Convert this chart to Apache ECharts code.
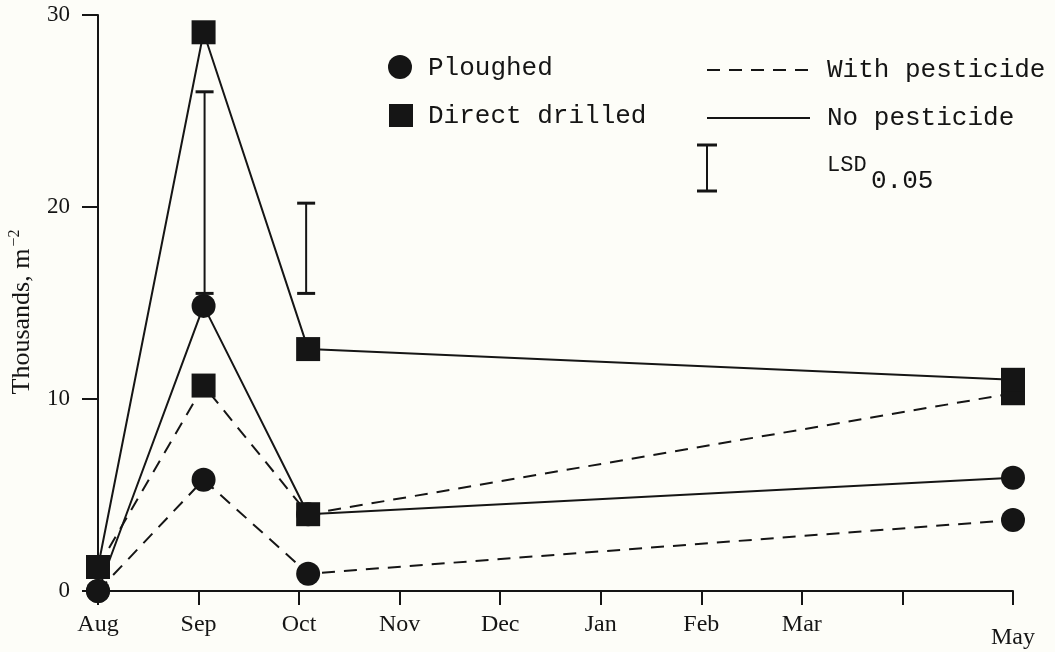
<!DOCTYPE html>
<html>
<head>
<meta charset="utf-8">
<script src="https://cdn.jsdelivr.net/npm/echarts@6/dist/echarts.min.js"></script>
<style>
  html, body { margin: 0; padding: 0; background: #fdfdf8; }
  #chart { width: 1055px; height: 652px; }
</style>
</head>
<body>
<div id="chart"></div>
<script>
// Sampling dates, in months counted from the start of August
const sampleMonths = [0, 1.05, 2.09, 9.1];

// Month ticks along the time axis (April's tick carries no label)
const monthTicks  = [0, 1, 2, 3, 4, 5, 6, 7, 8, 9.1];
const monthLabels = ['Aug', 'Sep', 'Oct', 'Nov', 'Dec', 'Jan', 'Feb', 'Mar', '', 'May'];

// Numbers (thousands per m²) for each treatment
const ploughedWithPesticide = [0, 5.8, 0.9, 3.7];
const ploughedNoPesticide   = [0, 14.85, 4.0, 5.9];
const drilledWithPesticide  = [1.25, 10.7, 4.0, 10.3];
const drilledNoPesticide    = [1.25, 29.1, 12.6, 11.0];

// Least significant differences (P = 0.05): where they are drawn and their extent
const lsdMonths = [1.06, 2.07];
const lsdLow    = [15.5, 15.5];
const lsdHigh   = [26.0, 20.2];

const INK = '#151515';
const SERIF = '"Liberation Serif", "Times New Roman", serif';
const MONO = '"Liberation Mono", "DejaVu Sans Mono", monospace';

function pairs(values) {
  return sampleMonths.map((m, i) => [m, values[i]]);
}

function treatment(name, values, symbol, dashed) {
  return {
    name: name,
    type: 'line',
    data: pairs(values),
    symbol: symbol,
    symbolSize: 24,
    showSymbol: true,
    clip: false,
    animation: false,
    silent: true,
    lineStyle: { color: INK, width: 2, type: dashed ? [13, 9] : 'solid' },
    itemStyle: { color: INK, borderWidth: 0 }
  };
}

const chart = echarts.init(document.getElementById('chart'), null, { renderer: 'canvas' });

chart.setOption({
  backgroundColor: '#fdfdf8',
  animation: false,
  grid: { left: 98, right: 42, top: 15, bottom: 61, containLabel: false, outerBoundsMode: 'none' },
  xAxis: {
    type: 'value',
    min: 0,
    max: monthTicks[monthTicks.length - 1],
    axisLine: { show: true, lineStyle: { color: INK, width: 2 } },
    axisTick: {
      show: true,
      customValues: monthTicks,
      length: 14,
      lineStyle: { color: INK, width: 2 }
    },
    axisLabel: {
      customValues: monthTicks,
      margin: 22,
      color: INK,
      fontFamily: SERIF,
      fontSize: 24,
      formatter: function (v) {
        const i = monthTicks.indexOf(v);
        const text = i >= 0 ? monthLabels[i] : '';
        return i === monthTicks.length - 1 ? '{low|' + text + '}' : text;
      },
      rich: {
        low: { fontFamily: SERIF, fontSize: 24, color: INK, padding: [13, 0, 0, 0] }
      }
    },
    splitLine: { show: false }
  },
  yAxis: {
    type: 'value',
    min: 0,
    max: 30,
    interval: 10,
    axisLine: { show: true, lineStyle: { color: INK, width: 2 } },
    axisTick: { show: true, length: 16, lineStyle: { color: INK, width: 2 } },
    axisLabel: { margin: 28, color: INK, fontFamily: SERIF, fontSize: 23 },
    splitLine: { show: false }
  },
  series: [
    treatment('Ploughed, with pesticide', ploughedWithPesticide, 'circle', true),
    treatment('Ploughed, no pesticide', ploughedNoPesticide, 'circle', false),
    treatment('Direct drilled, with pesticide', drilledWithPesticide, 'rect', true),
    treatment('Direct drilled, no pesticide', drilledNoPesticide, 'rect', false),
    {
      name: 'LSD',
      type: 'custom',
      silent: true,
      animation: false,
      clip: false,
      data: lsdMonths.map((m, i) => [m, lsdLow[i], lsdHigh[i]]),
      encode: { x: 0, y: [1, 2] },
      renderItem: function (params, api) {
        const lo = api.coord([api.value(0), api.value(1)]);
        const hi = api.coord([api.value(0), api.value(2)]);
        const w = 9;
        return {
          type: 'group',
          children: [
            { type: 'line', shape: { x1: lo[0], y1: lo[1], x2: hi[0], y2: hi[1] }, style: { stroke: INK, lineWidth: 2 } },
            { type: 'line', shape: { x1: lo[0] - w, y1: lo[1], x2: lo[0] + w, y2: lo[1] }, style: { stroke: INK, lineWidth: 3 } },
            { type: 'line', shape: { x1: hi[0] - w, y1: hi[1], x2: hi[0] + w, y2: hi[1] }, style: { stroke: INK, lineWidth: 3 } }
          ]
        };
      }
    }
  ],
  graphic: [
    // y-axis title
    {
      type: 'text',
      x: 22, y: 312,
      rotation: Math.PI / 2,
      style: {
        text: '{t|Thousands, m}{s|\u22122}',
        align: 'center',
        verticalAlign: 'middle',
        fill: INK,
        rich: {
          t: { fontFamily: SERIF, fontSize: 26, fill: INK },
          s: { fontFamily: SERIF, fontSize: 16, fill: INK, padding: [0, 0, 14, 2] }
        }
      }
    },
    // key: tillage symbols
    { type: 'circle', shape: { cx: 400, cy: 67, r: 12 }, style: { fill: INK } },
    { type: 'text', x: 428, y: 68, style: { text: 'Ploughed', font: '26px ' + MONO, fill: INK, verticalAlign: 'middle' } },
    { type: 'rect', shape: { x: 389, y: 104, width: 24, height: 23 }, style: { fill: INK } },
    { type: 'text', x: 428, y: 116, style: { text: 'Direct drilled', font: '26px ' + MONO, fill: INK, verticalAlign: 'middle' } },
    // key: pesticide line styles
    { type: 'line', shape: { x1: 707, y1: 70, x2: 812, y2: 70 }, style: { stroke: INK, lineWidth: 2, lineDash: [13, 9] } },
    { type: 'text', x: 827, y: 70, style: { text: 'With pesticide', font: '26px ' + MONO, fill: INK, verticalAlign: 'middle' } },
    { type: 'line', shape: { x1: 707, y1: 118, x2: 810, y2: 118 }, style: { stroke: INK, lineWidth: 2 } },
    { type: 'text', x: 827, y: 118, style: { text: 'No pesticide', font: '26px ' + MONO, fill: INK, verticalAlign: 'middle' } },
    // key: LSD bar
    { type: 'line', shape: { x1: 707, y1: 145, x2: 707, y2: 191 }, style: { stroke: INK, lineWidth: 2 } },
    { type: 'line', shape: { x1: 697, y1: 145, x2: 717, y2: 145 }, style: { stroke: INK, lineWidth: 3 } },
    { type: 'line', shape: { x1: 697, y1: 191, x2: 717, y2: 191 }, style: { stroke: INK, lineWidth: 3 } },
    { type: 'text', x: 827, y: 165, style: { text: 'LSD', font: '22px ' + MONO, fill: INK, verticalAlign: 'middle' } },
    { type: 'text', x: 871, y: 181, style: { text: '0.05', font: '26px ' + MONO, fill: INK, verticalAlign: 'middle' } }
  ]
});
</script>
</body>
</html>
